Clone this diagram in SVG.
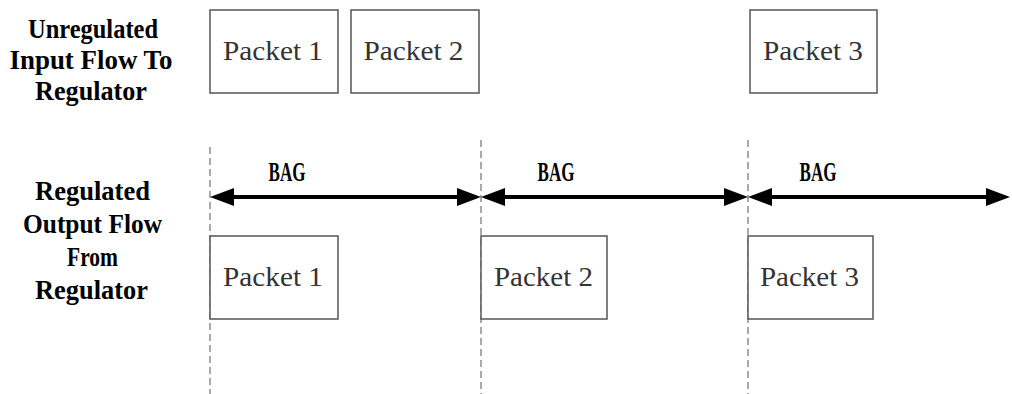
<svg xmlns="http://www.w3.org/2000/svg" width="1012" height="394" viewBox="0 0 1012 394">
<style>
.box{fill:#fff;stroke:#555;stroke-width:1.5}
.pt{font-family:"Liberation Serif",serif;font-size:27px;fill:#333;text-anchor:middle}
.lb{font-family:"Liberation Serif",serif;font-size:27px;font-weight:bold;fill:#000;text-anchor:middle}
.dash{stroke:#555;stroke-width:1;stroke-dasharray:7,4;fill:none}
.arr{stroke:#000;stroke-width:4;fill:none;marker-start:url(#ah);marker-end:url(#ah)}
</style>
<defs>
<marker id="ah" markerUnits="userSpaceOnUse" markerWidth="26" markerHeight="20" refX="0" refY="9" orient="auto-start-reverse" viewBox="0 0 26 20">
<path d="M0,0 L24,9 L0,18 Z" fill="#000"/>
</marker>
</defs>
<rect width="1012" height="394" fill="#fff"/>
<g id="label-input">
<text class="lb" x="93" y="38" textLength="130" lengthAdjust="spacingAndGlyphs">Unregulated</text>
<text class="lb" x="91" y="69" textLength="163" lengthAdjust="spacingAndGlyphs">Input Flow To</text>
<text class="lb" x="91" y="100" textLength="112" lengthAdjust="spacingAndGlyphs">Regulator</text>
</g>
<g id="label-output">
<text class="lb" x="92.5" y="200" textLength="115" lengthAdjust="spacingAndGlyphs">Regulated</text>
<text class="lb" x="92.5" y="233" textLength="139" lengthAdjust="spacingAndGlyphs">Output Flow</text>
<text class="lb" x="92.5" y="266" textLength="51" lengthAdjust="spacingAndGlyphs">From</text>
<text class="lb" x="91.5" y="299" textLength="113" lengthAdjust="spacingAndGlyphs">Regulator</text>
</g>
<g id="connectors">
<line class="dash" x1="210" y1="147" x2="210" y2="394"/>
<line class="dash" x1="481" y1="140" x2="481" y2="394"/>
<line class="dash" x1="748" y1="140" x2="748" y2="394"/>
<line class="arr" x1="234" y1="197" x2="457" y2="197"/>
<line class="arr" x1="505" y1="197" x2="724" y2="197"/>
<line class="arr" x1="772" y1="197" x2="986" y2="197"/>
</g>
<g id="bag-labels">
<text class="lb" x="287" y="181" textLength="37" lengthAdjust="spacingAndGlyphs">BAG</text>
<text class="lb" x="556" y="181" textLength="37" lengthAdjust="spacingAndGlyphs">BAG</text>
<text class="lb" x="818" y="181" textLength="37" lengthAdjust="spacingAndGlyphs">BAG</text>
</g>
<g id="in-packet1">
<rect class="box" x="210" y="10" width="128" height="83"/>
<text class="pt" x="273" y="60" textLength="100" lengthAdjust="spacingAndGlyphs">Packet 1</text>
</g>
<g id="in-packet2">
<rect class="box" x="351" y="10" width="128" height="83"/>
<text class="pt" x="413.5" y="60" textLength="100" lengthAdjust="spacingAndGlyphs">Packet 2</text>
</g>
<g id="in-packet3">
<rect class="box" x="750" y="10" width="127" height="83"/>
<text class="pt" x="813" y="60" textLength="100" lengthAdjust="spacingAndGlyphs">Packet 3</text>
</g>
<g id="out-packet1">
<rect class="box" x="210" y="236" width="128" height="83"/>
<text class="pt" x="273" y="286" textLength="100" lengthAdjust="spacingAndGlyphs">Packet 1</text>
</g>
<g id="out-packet2">
<rect class="box" x="481" y="236" width="126" height="83"/>
<text class="pt" x="543.5" y="286" textLength="99" lengthAdjust="spacingAndGlyphs">Packet 2</text>
</g>
<g id="out-packet3">
<rect class="box" x="748" y="236" width="125" height="83"/>
<text class="pt" x="809.5" y="286" textLength="99" lengthAdjust="spacingAndGlyphs">Packet 3</text>
</g>
</svg>
